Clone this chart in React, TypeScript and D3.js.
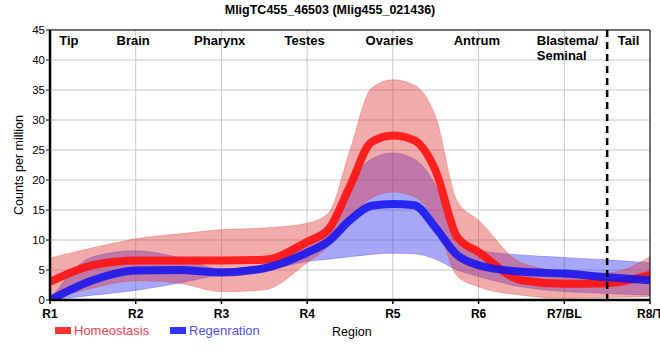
import * as d3 from "d3";

// region positions (R1 = 0 ... R8/T = 7); finer sampling around the ovary peak
const positions = [0, 0.5, 1, 1.5, 2, 2.5, 3, 3.25, 3.5, 3.75, 4, 4.25, 4.5, 4.75, 5, 5.5, 6, 6.5, 7];

const homeoMean = [3, 5.8, 6.6, 6.6, 6.6, 6.7, 9.7, 11.8, 19, 26.3, 27.4, 26.6, 21.5, 10.5, 8.0, 3.3, 2.7, 2.8, 4.2];
const homeoUpper = [7, 8.7, 10.2, 11, 11.7, 12, 12.8, 14.5, 25, 35.3, 36.7, 35.8, 30.5, 16.5, 13.3, 6.2, 4.8, 4.5, 7.2];
const homeoLower = [0, 2.0, 3.2, 2.8, 1.4, 1.7, 6.2, 9, 13.5, 17, 18, 17.2, 13, 4, 2.2, 0.8, 0.3, 0.4, 0.6];

const regenMean = [0, 3.3, 4.9, 5.0, 4.6, 5.3, 7.9, 9.8, 13.3, 15.7, 16, 15.8, 12, 7.5, 5.8, 4.7, 4.4, 3.8, 3.3];
const regenUpper = [0, 7.2, 8.2, 7.1, 5.2, 5.8, 9.3, 11.5, 19.5, 23.5, 24.5, 23.5, 19, 9.5, 8.3, 7.5, 7.1, 6.7, 6.2];
const regenLower = [0, 0.8, 1.6, 2.8, 4.2, 4.8, 6.4, 6.8, 7.2, 7.6, 7.8, 7.7, 6.8, 5.0, 3.9, 2.2, 1.4, 1.1, 0.8];

const tickLabels = ["R1", "R2", "R3", "R4", "R5", "R6", "R7/BL", "R8/T"];
const yTicks = [0, 5, 10, 15, 20, 25, 30, 35, 40, 45];

// tissue labels along the top
const tissues = [
  { name: ["Tip"], pos: 0.22, anchor: "middle" },
  { name: ["Brain"], pos: 0.97, anchor: "middle" },
  { name: ["Pharynx"], pos: 1.98, anchor: "middle" },
  { name: ["Testes"], pos: 2.97, anchor: "middle" },
  { name: ["Ovaries"], pos: 3.96, anchor: "middle" },
  { name: ["Antrum"], pos: 4.98, anchor: "middle" },
  { name: ["Blastema/", "Seminal"], pos: 5.68, anchor: "start" },
  { name: ["Tail"], pos: 6.75, anchor: "middle" },
];
const tailBoundary = 6.5;

const W = 660;
const H = 360;
const margin = { top: 30, right: 10, bottom: 60, left: 50 };

export default function App() {
  const x = d3.scaleLinear().domain([0, 7]).range([margin.left, W - margin.right]);
  const y = d3.scaleLinear().domain([0, 45]).range([H - margin.bottom, margin.top]);

  const rows = positions.map((p, i) => ({
    p,
    hm: homeoMean[i], hu: homeoUpper[i], hl: homeoLower[i],
    rm: regenMean[i], ru: regenUpper[i], rl: regenLower[i],
  }));
  type Row = (typeof rows)[number];

  const band = (lo: (d: Row) => number, hi: (d: Row) => number) =>
    d3.area<Row>().x((d) => x(d.p)).y0((d) => y(lo(d))).y1((d) => y(hi(d))).curve(d3.curveMonotoneX)(rows) || "";
  const line = (v: (d: Row) => number) =>
    d3.line<Row>().x((d) => x(d.p)).y((d) => y(v(d))).curve(d3.curveMonotoneX)(rows) || "";

  const x0 = x(0), x1 = x(7), yTop = y(45), yBot = y(0);
  const font = "'Liberation Sans', Arial, sans-serif";

  return (
    <svg width={W} height={H} style={{ position: "absolute", left: 0, top: 0, fontFamily: font }}>
      <defs>
        <clipPath id="plot">
          <rect x={x0} y={yTop} width={x1 - x0} height={yBot - yTop} />
        </clipPath>
      </defs>
      <text x={W / 2} y={14} textAnchor="middle" fontSize={12.5} fontWeight="bold">
        MligTC455_46503 (Mlig455_021436)
      </text>

      {/* grid */}
      {yTicks.map((t) => (
        <line key={"gy" + t} x1={x0} x2={x1} y1={y(t)} y2={y(t)} stroke="#c8c8c8" strokeWidth={1} />
      ))}
      {tickLabels.map((_, i) => (
        <line key={"gx" + i} x1={x(i)} x2={x(i)} y1={yTop} y2={yBot} stroke="#c8c8c8" strokeWidth={1} />
      ))}

      <g clipPath="url(#plot)">
        <path d={band((d) => d.rl, (d) => d.ru)} fill="#3c3cf0" fillOpacity={0.45} stroke="#3c3cf0" strokeOpacity={0.3} />
        <path d={band((d) => d.hl, (d) => d.hu)} fill="#e03838" fillOpacity={0.42} stroke="#e03838" strokeOpacity={0.3} />
        <path d={line((d) => d.hm)} fill="none" stroke="#ff1010" strokeOpacity={0.9} strokeWidth={8} />
        <path d={line((d) => d.rm)} fill="none" stroke="#1414f0" strokeOpacity={0.88} strokeWidth={8} />
      </g>

      {/* tail boundary */}
      <line x1={x(tailBoundary)} x2={x(tailBoundary)} y1={yTop} y2={yBot + 4} stroke="#000" strokeWidth={2.5} strokeDasharray="7,5" />

      {/* frame */}
      <line x1={x0} x2={x1} y1={yTop} y2={yTop} stroke="#000" strokeWidth={1} />
      <line x1={x1} x2={x1} y1={yTop} y2={yBot} stroke="#000" strokeWidth={1} />
      <line x1={x0} x2={x0} y1={yTop} y2={yBot} stroke="#000" strokeWidth={2.5} />
      <line x1={x0 - 1} x2={x1} y1={yBot} y2={yBot} stroke="#000" strokeWidth={2.5} />

      {/* y axis */}
      {yTicks.map((t) => (
        <g key={"yt" + t}>
          <line x1={x0 - 4} x2={x0} y1={y(t)} y2={y(t)} stroke="#000" />
          <text x={x0 - 5} y={y(t) + 4} textAnchor="end" fontSize={11.5}>{t}</text>
        </g>
      ))}
      <text transform={`translate(23,${(yTop + yBot) / 2}) rotate(-90)`} textAnchor="middle" fontSize={12.5}>
        Counts per million
      </text>

      {/* x axis */}
      {tickLabels.map((l, i) => (
        <g key={"xt" + i}>
          <line x1={x(i)} x2={x(i)} y1={yBot} y2={yBot + 4} stroke="#000" strokeWidth={1.5} />
          <text x={x(i)} y={yBot + 18} textAnchor="middle" fontSize={12} fontWeight="bold">{l}</text>
        </g>
      ))}
      <text x={332} y={336} fontSize={12.5}>Region</text>

      {/* tissue labels */}
      {tissues.map((t) =>
        t.name.map((n, j) => (
          <text key={n} x={x(t.pos)} y={45 + j * 15} textAnchor={t.anchor} fontSize={13} fontWeight="bold">{n}</text>
        ))
      )}

      {/* legend */}
      <rect x={55} y={327} width={16} height={7} fill="#ff3333" />
      <text x={74} y={335} fontSize={13} fill="#f2404f">Homeostasis</text>
      <rect x={170} y={327} width={16} height={7} fill="#3333ff" />
      <text x={189} y={335} fontSize={13} fill="#5050f0">Regenration</text>
    </svg>
  );
}
